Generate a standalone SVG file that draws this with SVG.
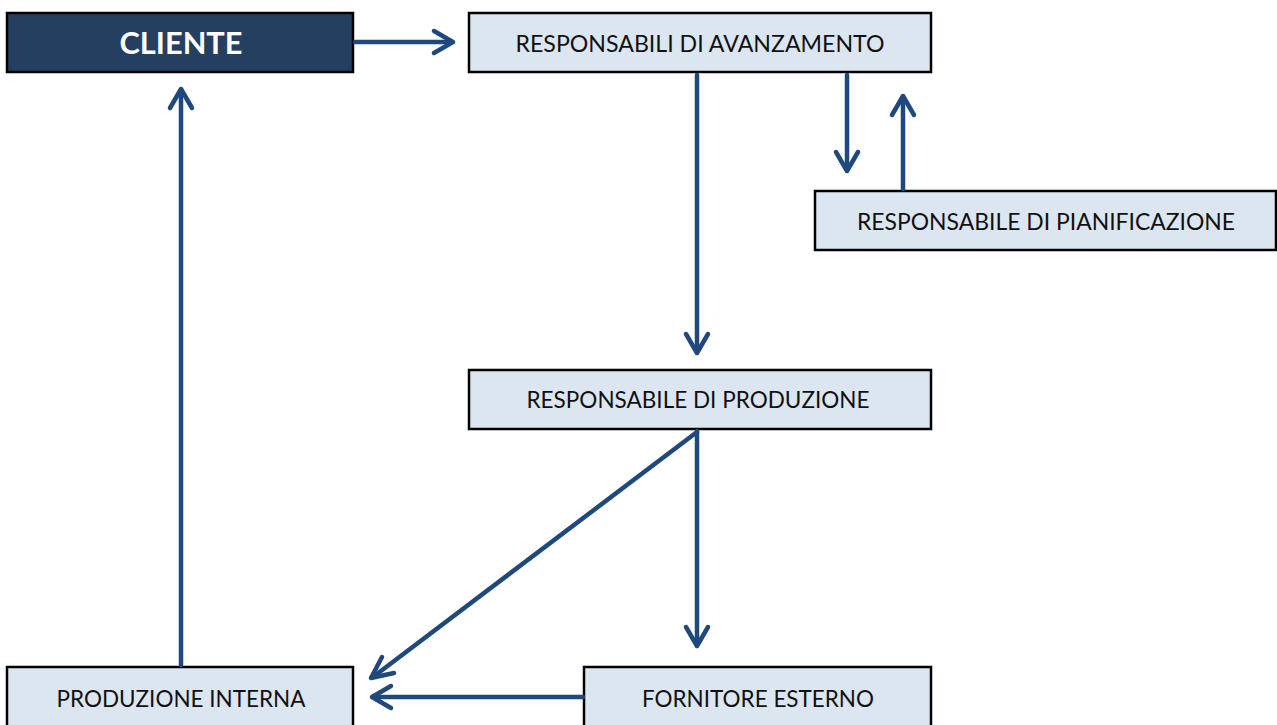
<svg xmlns="http://www.w3.org/2000/svg" width="1277" height="725" viewBox="0 0 1277 725">
<style>
.box{fill:#DCE6F1;stroke:#000;stroke-width:2.5}
.dark{fill:#243F60;stroke:#000;stroke-width:2.5}
.t{font-family:Lato,"Open Sans","Liberation Sans",sans-serif;font-size:22.5px;fill:#111;text-anchor:middle}
.tb{font-family:Lato,"Open Sans","Liberation Sans",sans-serif;font-size:30px;font-weight:bold;fill:#fff;text-anchor:middle}
.c{stroke:#1F497D;stroke-width:4.5;fill:none;stroke-linecap:round}
.h{stroke:#1F497D;stroke-width:4.5;fill:none;stroke-linecap:round;stroke-linejoin:round}
</style>
<g id="cliente"><rect class="dark" x="7" y="13" width="346" height="59"/><text class="tb" x="181" y="54" textLength="123" lengthAdjust="spacingAndGlyphs">CLIENTE</text></g>
<g id="avanzamento"><rect class="box" x="469" y="13" width="462" height="59"/><text class="t" x="700" y="52" textLength="369" lengthAdjust="spacingAndGlyphs">RESPONSABILI DI AVANZAMENTO</text></g>
<g id="pianificazione"><rect class="box" x="815" y="191" width="461" height="59"/><text class="t" x="1046" y="230" textLength="378" lengthAdjust="spacingAndGlyphs">RESPONSABILE DI PIANIFICAZIONE</text></g>
<g id="produzione"><rect class="box" x="469" y="370" width="462" height="59"/><text class="t" x="698" y="408" textLength="343" lengthAdjust="spacingAndGlyphs">RESPONSABILE DI PRODUZIONE</text></g>
<g id="interna"><rect class="box" x="7" y="667" width="346" height="70"/><text class="t" x="181" y="707" textLength="249" lengthAdjust="spacingAndGlyphs">PRODUZIONE INTERNA</text></g>
<g id="fornitore"><rect class="box" x="584" y="667" width="347" height="70"/><text class="t" x="758" y="707" textLength="232" lengthAdjust="spacingAndGlyphs">FORNITORE ESTERNO</text></g>
<g id="connectors">
<line class="c" x1="355" y1="42" x2="452" y2="42"/><polyline class="h" points="434,31 453,42 434,53"/>
<line class="c" x1="697" y1="75" x2="697" y2="352"/><polyline class="h" points="686,334 697,353 708,334"/>
<line class="c" x1="847" y1="75" x2="847" y2="170"/><polyline class="h" points="836,152 847,171 858,152"/>
<line class="c" x1="903" y1="189" x2="903" y2="97"/><polyline class="h" points="892,115 903,96 914,115"/>
<line class="c" x1="697" y1="431" x2="697" y2="645"/><polyline class="h" points="686,627 697,646 708,627"/>
<line class="c" x1="697" y1="432" x2="373" y2="677"/><polyline class="h" points="382,657 371,678 394,673"/>
<line class="c" x1="583" y1="697" x2="373" y2="697"/><polyline class="h" points="391,686 372,697 391,708"/>
<line class="c" x1="181" y1="665" x2="181" y2="90"/><polyline class="h" points="170,108 181,89 192,108"/>
</g>
</svg>
